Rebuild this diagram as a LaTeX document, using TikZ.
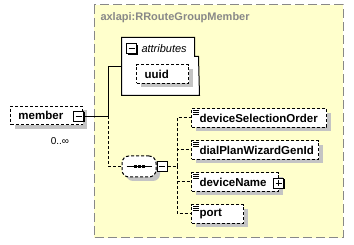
\documentclass[tikz,border=0pt]{standalone}
\usepackage{fontspec}
\setmainfont{Liberation Sans}
\usetikzlibrary{shadows}
\definecolor{panel}{HTML}{FFFFCC}
\definecolor{shade}{HTML}{C4C4C4}
\definecolor{frame}{HTML}{888888}

% three short rules in the top-left corner of an element box
\newcommand{\listmark}[1]{%
  \foreach \k in {2,4,6}
    \draw[line width=0.8pt] ([xshift=2pt,yshift=-\k pt]#1.north west) -- ++(5.5,0);}

\begin{document}
\begin{tikzpicture}[x=1pt,y=-1pt,line width=1pt,
  lbl/.style={font=\fontsize{11.5}{13}\selectfont\bfseries},
  elembox/.style={draw,fill=white,dash pattern=on 3pt off 2pt,
    inner xsep=8pt,inner ysep=0pt,minimum height=18.5pt,align=left,
    anchor=west,lbl,
    drop shadow={shadow xshift=4pt,shadow yshift=-4pt,fill=shade,opacity=1}},
  pmbox/.style={draw,fill=white,minimum size=10pt,inner sep=0pt,
    drop shadow={shadow xshift=1pt,shadow yshift=-1pt,fill=black,opacity=1}},
  minus/.style={pmbox,path picture={
    \draw ([xshift=2pt]path picture bounding box.west) -- ([xshift=-2pt]path picture bounding box.east);}},
  plus/.style={pmbox,path picture={
    \draw ([xshift=2pt]path picture bounding box.west) -- ([xshift=-2pt]path picture bounding box.east);
    \draw ([yshift=-2pt]path picture bounding box.north) -- ([yshift=2pt]path picture bounding box.south);}},
  link/.style={line width=1pt},
  optlink/.style={line width=1pt,dash pattern=on 3pt off 2pt}]

\useasboundingbox (0,0) rectangle (354,245);

% complex type panel
\draw[frame,fill=panel,dash pattern=on 9pt off 4pt] (94,5) rectangle (343,238);
\node[anchor=west,text=frame,font=\fontsize{11}{13}\selectfont\bfseries,inner sep=0pt]
  (typename) at (100,18) {axlapi:RRouteGroupMember};

% root element
\node[elembox,text width=56pt,minimum width=72pt] (member) at (10,115.5) {member};
\node[minus] (mminus) at (78.5,116.5) {};
\node[font=\fontsize{10}{12}\selectfont,inner sep=0pt] (mult) at (60,141) {0..∞};

% attributes group
\node[minimum width=77pt,minimum height=57pt,inner sep=0pt] (attrs) at (160.5,66.5) {};
\draw[fill=white] (attrs.north west) -- ++(73,0) -- ++(0,19) -- ++(4,0)
  -- (attrs.south east) -- (attrs.south west) -- cycle;
\node[minus] (aminus) at (131.5,49) {};
\node[anchor=west,font=\fontsize{11}{13}\selectfont\itshape,inner sep=0pt]
  (atitle) at (141,49) {attributes};
\node[elembox,text width=36pt,minimum width=52pt] (uuid) at (136,74) {uuid};

% sequence compositor
\node[draw,fill=white,dash pattern=on 3pt off 2pt,rounded corners=7pt,
  minimum width=34pt,minimum height=21pt,inner sep=0pt,
  drop shadow={shadow xshift=4pt,shadow yshift=-4pt,fill=shade,opacity=1}]
  (seq) at (139,166.5) {};
\draw ([xshift=5pt]seq.west) -- ([xshift=-5pt]seq.east);
\foreach \dx in {-4,0,4}
  \fill ([xshift=\dx pt]seq.center) ++(-1.5,-1.5) rectangle ++(3,3);
\node[minus] (sminus) at (162,166.5) {};

% child elements
\node[elembox,text width=119pt,minimum width=135pt] (dso) at (191,118) {deviceSelectionOrder};
\node[elembox,text width=111pt,minimum width=127pt] (dpw) at (191,150) {dialPlanWizardGenId};
\node[elembox,text width=71pt,minimum width=87pt] (dname) at (191,182) {deviceName};
\node[plus] (dplus) at (278.5,183.5) {};
\node[elembox,text width=36pt,minimum width=52pt] (port) at (191,214) {port};
\listmark{dso}
\listmark{dpw}
\listmark{dname}
\listmark{port}

% connectors
\coordinate (fork) at (108,116.5);
\coordinate (bus) at (177,166.5);
\draw[link] (mminus.east) -- (fork);
\draw[link] (fork) |- (attrs.west);
\draw[optlink] (fork) |- (seq.west);
\draw[optlink] (sminus.east) -- (bus);
\draw[optlink] (bus) |- (dso.west);
\draw[optlink] (bus) |- (dpw.west);
\draw[optlink] (bus) |- (dname.west);
\draw[optlink] (bus) |- (port.west);
\end{tikzpicture}
\end{document}
